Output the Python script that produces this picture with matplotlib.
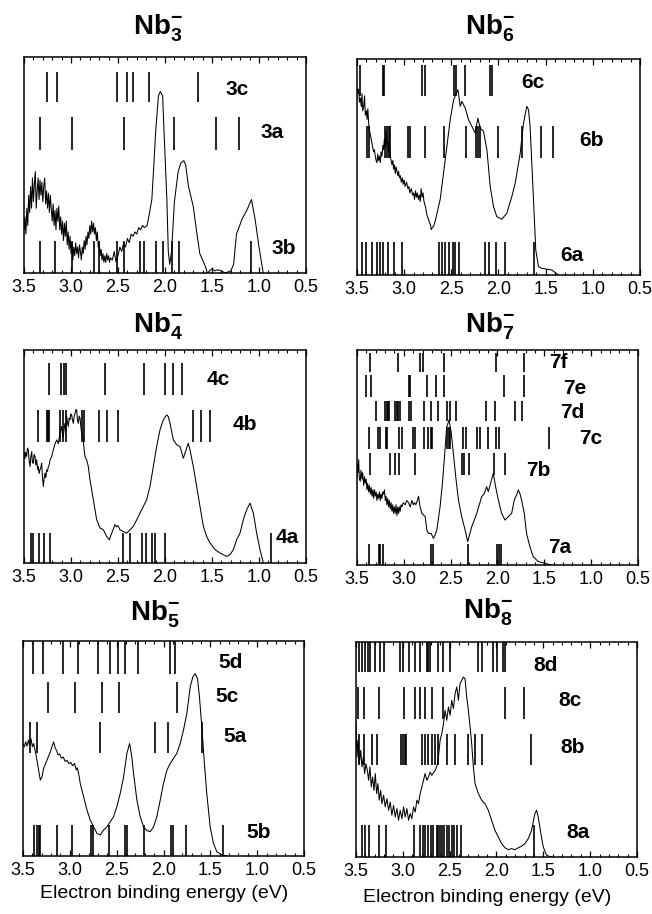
import matplotlib
matplotlib.use('Agg')
import matplotlib.pyplot as plt
from matplotlib.ticker import MultipleLocator

plt.rcParams['font.family'] = ['Liberation Sans', 'DejaVu Sans']
plt.rcParams['mathtext.fontset'] = 'custom'
plt.rcParams['mathtext.rm'] = 'Liberation Sans:bold'
plt.rcParams['mathtext.bf'] = 'Liberation Sans:bold'
plt.rcParams['mathtext.it'] = 'Liberation Sans:bold'

# ---------------- data ----------------
xticks = [3.5, 3.0, 2.5, 2.0, 1.5, 1.0, 0.5]
xlabel = 'Electron binding energy (eV)'
titles = {'3': r'$\mathbf{Nb_{3}^{-}}$', '6': r'$\mathbf{Nb_{6}^{-}}$', '4': r'$\mathbf{Nb_{4}^{-}}$',
          '7': r'$\mathbf{Nb_{7}^{-}}$', '5': r'$\mathbf{Nb_{5}^{-}}$', '8': r'$\mathbf{Nb_{8}^{-}}$'}

# Nb3- spectrum
e3 = [3.50,3.49,3.48,3.47,3.46,3.45,3.44,3.43,3.42,3.41,3.40,3.39,3.38,3.37,3.36,3.35,3.34,3.33,3.32,3.31,
      3.30,3.29,3.28,3.27,3.26,3.25,3.24,3.23,3.22,3.21,3.20,3.19,3.18,3.17,3.16,3.15,3.14,3.13,3.12,3.11,
      3.10,3.09,3.08,3.07,3.06,3.05,3.04,3.03,3.02,3.01,3.00,2.99,2.98,2.97,2.96,2.95,2.94,2.93,2.92,2.91,
      2.90,2.89,2.88,2.87,2.86,2.85,2.84,2.83,2.82,2.81,2.80,2.79,2.78,2.77,2.76,2.75,2.74,2.73,2.72,2.71,
      2.70,2.69,2.68,2.67,2.66,2.65,2.64,2.63,2.62,2.61,2.60,2.59,2.58,2.56,2.54,2.52,2.50,2.48,2.46,2.44,
      2.42,2.40,2.38,2.36,2.34,2.32,2.30,2.28,2.26,2.24,2.22,2.19,2.16,2.14,2.12,2.10,2.07,2.05,2.025,2.01,
      1.98,1.965,1.95,1.93,1.90,1.86,1.83,1.80,1.78,1.75,1.70,1.66,1.63,1.57,1.55,1.50,1.47,1.44,1.40,1.36,
      1.30,1.27,1.24,1.18,1.13,1.08,1.04,1.00,0.955]
i3 = [0.20,0.26,0.18,0.30,0.22,0.36,0.28,0.40,0.30,0.44,0.33,0.41,0.47,0.30,0.38,0.44,0.34,0.43,0.36,0.42,
      0.33,0.40,0.44,0.32,0.38,0.30,0.37,0.28,0.36,0.30,0.24,0.32,0.22,0.29,0.20,0.30,0.24,0.31,0.20,0.26,
      0.18,0.24,0.15,0.23,0.17,0.24,0.13,0.19,0.11,0.17,0.09,0.14,0.06,0.12,0.08,0.14,0.09,0.12,0.07,0.13,
      0.10,0.06,0.12,0.09,0.15,0.11,0.17,0.13,0.19,0.16,0.22,0.18,0.24,0.19,0.23,0.18,0.21,0.15,0.19,0.12,
      0.14,0.08,0.11,0.06,0.09,0.05,0.08,0.05,0.09,0.06,0.08,0.05,0.07,0.06,0.10,0.05,0.08,0.12,0.10,0.14,
      0.12,0.16,0.14,0.18,0.17,0.19,0.18,0.21,0.20,0.22,0.21,0.22,0.29,0.34,0.49,0.65,0.82,0.84,0.82,0.65,
      0.34,0.10,0.04,0.10,0.33,0.47,0.51,0.52,0.50,0.40,0.31,0.18,0.09,0.03,0.0,0.02,0.01,0.015,0.01,0.0,
      0.01,0.04,0.18,0.25,0.29,0.34,0.245,0.12,0.0]
s3c = [3.25, 3.15, 2.51, 2.40, 2.34, 2.17, 1.65]
s3a = [3.33, 2.99, 2.44, 1.90, 1.46, 1.21]
s3b = [3.33, 3.17, 2.99, 2.76, 2.70, 2.51, 2.44, 2.27, 2.22, 2.10, 2.02, 1.93, 1.85, 1.085]

# Nb6- spectrum
e6 = [3.50,3.49,3.482,3.475,3.465,3.455,3.447,3.44,3.429,3.42,3.412,3.40,3.394,3.385,3.376,3.368,3.359,3.35,
      3.341,3.333,3.324,3.315,3.306,3.297,3.288,3.28,3.271,3.262,3.253,3.245,3.235,3.226,3.218,3.21,3.20,3.19,
      3.182,3.173,3.165,3.156,3.147,3.138,3.129,3.12,3.112,3.103,3.094,3.085,3.076,3.067,3.059,3.05,3.041,3.03,
      3.02,3.01,3.00,2.99,2.975,2.96,2.95,2.94,2.925,2.91,2.90,2.89,2.88,2.87,2.86,2.85,2.84,2.83,2.82,2.81,
      2.80,2.79,2.776,2.76,2.741,2.72,2.713,2.70,2.688,2.671,2.65,2.618,2.565,2.512,2.476,2.43,2.406,2.388,
      2.353,2.318,2.282,2.247,2.219,2.194,2.159,2.123,2.088,2.053,2.018,1.965,1.912,1.859,1.823,1.770,1.735,
      1.70,1.682,1.665,1.629,1.605,1.576,1.541,1.435,1.365]
i6 = [0.87,0.84,0.86,0.80,0.82,0.78,0.84,0.76,0.78,0.83,0.74,0.76,0.72,0.77,0.70,0.67,0.65,0.63,
      0.61,0.59,0.57,0.58,0.55,0.53,0.52,0.56,0.53,0.55,0.52,0.57,0.55,0.60,0.58,0.63,0.59,0.67,
      0.60,0.62,0.57,0.60,0.55,0.53,0.51,0.53,0.49,0.51,0.47,0.50,0.48,0.46,0.48,0.45,0.46,0.43,
      0.45,0.42,0.44,0.41,0.43,0.40,0.41,0.38,0.40,0.37,0.38,0.35,0.39,0.36,0.38,0.35,0.37,0.34,0.40,0.36,
      0.38,0.34,0.32,0.28,0.255,0.23,0.21,0.22,0.225,0.25,0.29,0.35,0.533,0.719,0.811,0.858,0.781,0.804,
      0.773,0.719,0.688,0.657,0.726,0.68,0.665,0.58,0.41,0.317,0.27,0.258,0.286,0.363,0.425,0.564,0.703,
      0.781,0.765,0.688,0.348,0.116,0.039,0.031,0.023,0.0]
s6c = [3.465, 3.225, 3.215, 2.81, 2.78, 2.475, 2.45, 2.355, 2.085, 2.065]
s6b = [3.39, 3.375, 3.20, 3.18, 3.165, 3.15, 2.96, 2.935, 2.775, 2.58, 2.34, 2.235, 2.215, 2.20, 2.01, 1.75, 1.545, 1.425]
s6a = [3.45, 3.40, 3.34, 3.29, 3.255, 3.22, 3.17, 3.11, 3.02, 2.63, 2.60, 2.572, 2.53, 2.48, 2.46, 2.42,
       2.14, 2.096, 2.027, 1.93, 1.625]

# Nb4- spectrum
e4 = [3.50,3.49,3.482,3.472,3.463,3.454,3.445,3.436,3.427,3.418,3.41,3.401,3.392,3.383,3.374,3.365,3.356,3.348,
      3.339,3.33,3.32,3.312,3.303,3.294,3.285,3.277,3.268,3.259,3.25,3.241,3.232,3.223,3.205,3.188,3.17,3.152,
      3.135,3.117,3.10,3.09,3.082,3.073,3.064,3.055,3.046,3.037,3.028,3.02,3.011,3.002,2.993,2.984,2.975,2.966,
      2.957,2.948,2.94,2.931,2.922,2.913,2.904,2.895,2.887,2.878,2.869,2.86,2.851,2.842,2.833,2.816,2.798,2.762,
      2.727,2.691,2.656,2.621,2.592,2.567,2.532,2.515,2.50,2.479,2.443,2.408,2.372,2.337,2.301,2.266,2.23,2.195,
      2.16,2.124,2.089,2.053,2.018,1.982,1.965,1.947,1.929,1.911,1.876,1.84,1.805,1.787,1.77,1.752,1.734,1.699,
      1.663,1.628,1.592,1.557,1.521,1.468,1.415,1.344,1.309,1.273,1.238,1.202,1.167,1.131,1.096,1.06,1.025,
      0.989,0.954]
i4 = [0.516,0.49,0.52,0.50,0.54,0.531,0.48,0.453,0.50,0.523,0.47,0.469,0.51,0.50,0.46,0.484,0.44,0.453,
      0.42,0.4375,0.45,0.469,0.40,0.359,0.40,0.422,0.40,0.4375,0.43,0.453,0.46,0.484,0.50,0.531,0.56,0.578,
      0.56,0.609,0.641,0.60,0.594,0.63,0.656,0.62,0.6875,0.66,0.641,0.68,0.672,0.70,0.695,0.67,0.656,0.69,
      0.703,0.72,0.719,0.67,0.656,0.69,0.68,0.64,0.609,0.60,0.578,0.53,0.50,0.49,0.484,0.453,0.39,0.297,
      0.203,0.164,0.156,0.125,0.109,0.14,0.18,0.17,0.175,0.156,0.148,0.14,0.156,0.172,0.203,0.234,0.266,0.297,
      0.359,0.453,0.547,0.625,0.672,0.695,0.6875,0.656,0.617,0.578,0.555,0.547,0.492,0.516,0.539,0.5625,0.531,0.453,
      0.359,0.266,0.172,0.125,0.094,0.0625,0.047,0.031,0.039,0.0625,0.109,0.14,0.203,0.25,0.281,0.234,0.14,
      0.0625,0.0]
s4c = [3.23, 3.11, 3.07, 3.05, 2.64, 2.223, 2.0, 1.91, 1.82]
s4b = [3.35, 3.26, 3.245, 3.23, 3.12, 3.08, 3.05, 2.88, 2.865, 2.705, 2.613, 2.505, 1.70, 1.615, 1.525]
s4a = [3.43, 3.405, 3.337, 3.29, 3.22, 2.443, 2.372, 2.248, 2.204, 2.133, 2.11, 1.995, 0.874]

# Nb7- spectrum
e7 = [3.50,3.495,3.49,3.482,3.475,3.465,3.458,3.447,3.44,3.429,3.42,3.411,3.402,3.394,3.385,3.376,3.367,3.358,
      3.349,3.34,3.331,3.323,3.314,3.305,3.296,3.287,3.278,3.269,3.26,3.252,3.243,3.234,3.225,3.216,3.207,3.198,
      3.19,3.181,3.172,3.163,3.154,3.145,3.136,3.127,3.118,3.11,3.101,3.092,3.083,3.074,3.065,3.056,3.047,3.039,
      3.03,3.021,3.005,2.985,2.97,2.95,2.932,2.914,2.897,2.885,2.872,2.855,2.843,2.826,2.808,2.772,2.755,2.737,
      2.708,2.684,2.666,2.648,2.613,2.588,2.566,2.542,2.517,2.495,2.471,2.446,2.417,2.382,2.346,2.318,2.275,
      2.222,2.169,2.14,2.116,2.098,2.069,2.045,2.02,1.991,1.956,1.92,1.885,1.849,1.821,1.796,1.778,1.761,1.743,
      1.714,1.69,1.654,1.619,1.565,1.494,1.423]
i7 = [0.41,0.47,0.43,0.49,0.40,0.39,0.44,0.40,0.43,0.37,0.41,0.38,0.40,0.35,0.38,0.34,0.37,0.33,
      0.36,0.32,0.35,0.31,0.35,0.32,0.34,0.30,0.33,0.31,0.34,0.30,0.33,0.31,0.34,0.33,0.35,0.30,
      0.32,0.28,0.31,0.27,0.30,0.26,0.29,0.25,0.28,0.24,0.27,0.24,0.28,0.23,0.27,0.24,0.27,0.25,
      0.28,0.27,0.29,0.28,0.30,0.29,0.27,0.30,0.28,0.29,0.28,0.30,0.32,0.27,0.24,0.225,0.163,0.147,
      0.147,0.124,0.14,0.163,0.271,0.38,0.504,0.643,0.674,0.62,0.519,0.411,0.302,0.225,0.163,0.109,0.178,
      0.24,0.318,0.333,0.364,0.341,0.388,0.426,0.364,0.302,0.24,0.209,0.225,0.24,0.302,0.326,0.349,0.333,0.302,
      0.24,0.147,0.085,0.039,0.016,0.008,0.0]
s7f = [3.366, 3.062, 2.825, 2.80, 2.572, 2.016, 1.719]
s7e = [3.40, 3.349, 2.945, 2.931, 2.754, 2.661, 2.576, 1.927, 1.719]
s7d = [3.30, 3.20, 3.185, 3.17, 3.16, 3.09, 3.075, 3.06, 3.045, 2.95, 2.92, 2.785, 2.715, 2.63, 2.535, 2.51,
       2.44, 2.128, 2.025, 1.81, 1.74]
s7c = [3.375, 3.28, 3.255, 3.19, 3.175, 3.055, 3.02, 2.905, 2.88, 2.79, 2.74, 2.715, 2.70, 2.54, 2.52, 2.505,
       2.365, 2.335, 2.215, 2.185, 2.10, 2.015, 1.98, 1.445]
s7b = [3.358, 3.148, 3.09, 3.052, 2.88, 2.377, 2.358, 2.30, 2.04, 1.918]
s7a = [3.376, 3.269, 3.252, 3.227, 2.708, 2.684, 2.318, 2.009, 1.984, 1.967]

# Nb5- spectrum
e5 = [3.50,3.486,3.472,3.457,3.443,3.429,3.415,3.40,3.386,3.368,3.351,3.333,3.315,3.297,3.28,3.244,3.208,3.173,
      3.155,3.14,3.125,3.11,3.09,3.07,3.05,3.03,3.01,2.99,2.97,2.95,2.93,2.92,2.90,2.889,2.853,2.817,2.782,2.746,
      2.711,2.675,2.64,2.604,2.569,2.533,2.498,2.462,2.426,2.391,2.362,2.338,2.32,2.284,2.249,2.213,2.178,2.142,
      2.106,2.071,2.035,2.0,1.964,1.929,1.893,1.858,1.822,1.787,1.751,1.733,1.715,1.687,1.662,1.637,1.616,1.591,
      1.566,1.538,1.502,1.467,1.431,1.378,1.324]
i5 = [0.523,0.508,0.531,0.511,0.539,0.515,0.546,0.508,0.523,0.485,0.446,0.399,0.353,0.368,0.407,0.446,0.485,0.531,
      0.50,0.49,0.47,0.475,0.455,0.46,0.44,0.445,0.43,0.435,0.42,0.43,0.40,0.41,0.37,0.337,0.276,0.214,0.167,0.136,
      0.105,0.098,0.121,0.136,0.159,0.183,0.229,0.291,0.368,0.477,0.523,0.461,0.384,0.26,0.183,0.136,0.118,0.113,
      0.136,0.183,0.26,0.337,0.399,0.43,0.454,0.477,0.523,0.585,0.663,0.724,0.786,0.833,0.848,0.825,0.74,0.601,
      0.446,0.291,0.136,0.059,0.02,0.005,0.0]
s5d = [3.397, 3.287, 3.077, 2.917, 2.704, 2.569, 2.49, 2.416, 2.277, 1.929, 1.875]
s5c = [3.237, 2.942, 2.658, 2.473, 1.858]
s5a = [3.422, 3.351, 2.675, 2.089, 1.957, 1.591]
s5b = [3.379, 3.351, 3.333, 3.315, 3.137, 2.977, 2.775, 2.757, 2.586, 2.409, 2.391, 2.213, 1.922, 1.90, 1.758, 1.367]

# Nb8- spectrum
e8 = [3.50,3.489,3.479,3.465,3.45,3.436,3.422,3.408,3.394,3.379,3.365,3.351,3.337,3.323,3.308,3.294,3.28,3.266,
      3.252,3.237,3.223,3.205,3.188,3.17,3.152,3.134,3.117,3.099,3.081,3.063,3.046,3.028,3.01,2.992,2.975,2.957,
      2.939,2.921,2.904,2.886,2.868,2.85,2.833,2.815,2.797,2.779,2.762,2.744,2.726,2.708,2.691,2.655,2.627,2.602,
      2.584,2.566,2.549,2.531,2.513,2.495,2.478,2.46,2.442,2.424,2.407,2.389,2.371,2.353,2.336,2.318,2.30,2.282,
      2.265,2.247,2.229,2.194,2.158,2.123,2.087,2.052,2.016,1.981,1.945,1.91,1.874,1.839,1.803,1.768,1.732,1.697,
      1.661,1.626,1.59,1.572,1.555,1.526,1.501,1.466,1.413]
i8 = [0.63,0.465,0.543,0.434,0.496,0.419,0.465,0.388,0.434,0.403,0.357,0.419,0.326,0.372,0.31,0.388,0.295,0.341,
      0.264,0.31,0.248,0.287,0.233,0.271,0.217,0.256,0.194,0.24,0.186,0.225,0.171,0.217,0.178,0.233,0.186,0.225,
      0.171,0.202,0.178,0.233,0.209,0.264,0.248,0.295,0.326,0.357,0.388,0.357,0.372,0.395,0.38,0.403,0.434,0.543,
      0.574,0.62,0.682,0.636,0.698,0.659,0.729,0.69,0.76,0.791,0.729,0.806,0.822,0.837,0.829,0.744,0.682,0.605,
      0.527,0.419,0.341,0.295,0.264,0.248,0.217,0.171,0.124,0.093,0.062,0.043,0.034,0.039,0.034,0.043,0.05,0.062,
      0.085,0.124,0.202,0.217,0.186,0.109,0.047,0.008,0.0]
s8d = [3.472, 3.436, 3.40, 3.372, 3.347, 3.301, 3.241, 3.205, 3.028, 3.003, 2.939, 2.875, 2.815, 2.744, 2.726,
       2.708, 2.62, 2.566, 2.495, 2.201, 2.158, 2.034, 1.998, 1.927, 1.91]
s8c = [3.479, 3.418, 3.259, 2.992, 2.875, 2.815, 2.762, 2.691, 2.566, 1.91, 1.704]
s8b = [3.472, 3.418, 3.33, 3.276, 3.017, 3.003, 2.982, 2.968, 2.797, 2.762, 2.726, 2.691, 2.655, 2.62, 2.531,
       2.442, 2.307, 2.229, 2.151, 1.633]
s8a = [3.44, 3.405, 3.36, 3.25, 3.18, 2.886, 2.815, 2.79, 2.762, 2.726, 2.698, 2.673, 2.637, 2.62, 2.602, 2.577,
       2.556, 2.531, 2.506, 2.478, 2.449, 2.424, 2.378, 1.597]

# ---------------- layout (pixels) ----------------
W, H = 652, 914
panels = [
    # key, box (x0,y0,x1,y1), title (x, baseline y), curve, rows: (label, sticks, y0, y1, lx, ly)
    ('3', (24, 57, 306, 273), (158, 35), (e3, i3),
     [('3c', s3c, 0.79, 0.93, 0.755, 0.85), ('3a', s3a, 0.57, 0.72, 0.88, 0.65), ('3b', s3b, 0.0, 0.15, 0.92, 0.115)]),
    ('6', (357, 59, 640, 275), (490, 35), (e6, i6),
     [('6c', s6c, 0.83, 0.97, 0.62, 0.89), ('6b', s6b, 0.54, 0.69, 0.83, 0.625), ('6a', s6a, 0.0, 0.155, 0.76, 0.09)]),
    ('4', (24, 350, 306, 563), (158, 333), (e4, i4),
     [('4c', s4c, 0.79, 0.937, 0.69, 0.86), ('4b', s4b, 0.57, 0.72, 0.785, 0.65), ('4a', s4a, 0.0, 0.142, 0.935, 0.12)]),
    ('7', (357, 350, 638, 565), (490, 333), (e7, i7),
     [('7f', s7f, 0.90, 0.985, 0.715, 0.94), ('7e', s7e, 0.78, 0.884, 0.776, 0.823),
      ('7d', s7d, 0.67, 0.765, 0.765, 0.707), ('7c', s7c, 0.54, 0.643, 0.83, 0.59),
      ('7b', s7b, 0.42, 0.52, 0.645, 0.44), ('7a', s7a, 0.0, 0.10, 0.72, 0.08)]),
    ('5', (23, 641, 304, 856), (155, 620), (e5, i5),
     [('5d', s5d, 0.848, 1.0, 0.737, 0.898), ('5c', s5c, 0.663, 0.81, 0.725, 0.74),
      ('5a', s5a, 0.477, 0.624, 0.754, 0.555), ('5b', s5b, 0.0, 0.144, 0.84, 0.11)]),
    ('8', (356, 642, 637, 857), (488, 618), (e8, i8),
     [('8d', s8d, 0.86, 1.0, 0.673, 0.893), ('8c', s8c, 0.643, 0.79, 0.76, 0.73),
      ('8b', s8b, 0.426, 0.574, 0.77, 0.51), ('8a', s8a, 0.0, 0.147, 0.79, 0.116)]),
]

fig = plt.figure(figsize=(W / 100, H / 100), dpi=100)

for key, (x0, y0, x1, y1), (tx, ty), (ee, ii), rows in panels:
    ax = fig.add_axes([x0 / W, 1 - y1 / H, (x1 - x0) / W, (y1 - y0) / H])
    ax.plot(ee, ii, color='black', lw=0.75)
    for lab, sticks, r0, r1, lx, ly in rows:
        ax.vlines(sticks, r0, r1, color='black', lw=1.2)
        ax.text(lx, ly, lab, transform=ax.transAxes, ha='center', va='center',
                fontsize=15, fontweight='bold')
    ax.set_xlim(3.5, 0.5)
    ax.set_ylim(0, 1)
    ax.set_yticks([])
    ax.set_xticks(xticks)
    ax.set_xticklabels(['%.1f' % t for t in xticks])
    ax.xaxis.set_minor_locator(MultipleLocator(0.1))
    ax.tick_params(axis='x', which='both', direction='in', top=True, bottom=True,
                   labelsize=13, pad=4)
    ax.tick_params(axis='x', which='major', length=4, width=0.9)
    ax.tick_params(axis='x', which='minor', length=2.5, width=0.8)
    for sp in ax.spines.values():
        sp.set_linewidth(1.1)
    fig.text(tx / W, 1 - ty / H, titles[key], ha='center', va='baseline', fontsize=20)

fig.text(164 / W, 1 - 893 / H, xlabel, ha='center', va='center', fontsize=14)
fig.text(487 / W, 1 - 898 / H, xlabel, ha='center', va='center', fontsize=14)

fig.savefig('out.png', dpi=100)
